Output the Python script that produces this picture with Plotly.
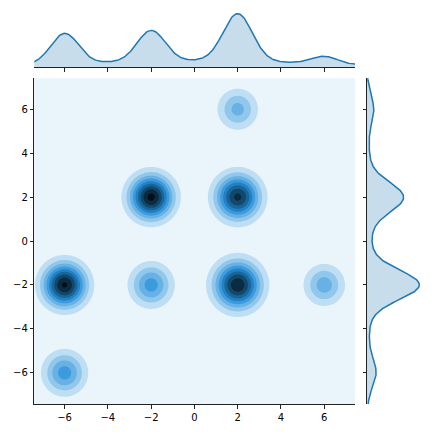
import colorsys
import numpy as np
import plotly.graph_objects as go

# ---- data (cluster centres, relative weights, kernel spread)
cluster_x = [-6, -6, -2, -2, 2, 2, 2, 6]
cluster_y = [-2, -6, 2, -2, 6, 2, -2, -2]
cluster_weight = [0.256, 0.118, 0.260, 0.118, 0.080, 0.245, 0.286, 0.085]
cluster_spread = [0.65, 0.63, 0.65, 0.63, 0.60, 0.67, 0.70, 0.60]
# broad low-density floor visible in the marginal KDE curves
floor_x_weight, floor_x_spread = 0.64, 5.2
floor_y_weight, floor_y_spread = 0.35, 3.6

tick_values = [-6, -4, -2, 0, 2, 4, 6]
x_range = [-7.40, 7.42]
y_range = [-7.42, 7.41]
n_bands = 10
base_color = "#1f77b4"

# ---- density surface and marginals
grid = np.linspace(-7.8, 7.8, 391)
GX, GY = np.meshgrid(grid, grid)
Z = np.zeros_like(GX)
mx = np.zeros_like(grid)
my = np.zeros_like(grid)
for cx, cy, w, s in zip(cluster_x, cluster_y, cluster_weight, cluster_spread):
    Z += w / (2 * np.pi * s * s) * np.exp(-((GX - cx) ** 2 + (GY - cy) ** 2) / (2 * s * s))
    mx += w / (s * np.sqrt(2 * np.pi)) * np.exp(-((grid - cx) ** 2) / (2 * s * s))
    my += w / (s * np.sqrt(2 * np.pi)) * np.exp(-((grid - cy) ** 2) / (2 * s * s))
mx += floor_x_weight / (floor_x_spread * np.sqrt(2 * np.pi)) * np.exp(-grid ** 2 / (2 * floor_x_spread ** 2))
my += floor_y_weight / (floor_y_spread * np.sqrt(2 * np.pi)) * np.exp(-grid ** 2 / (2 * floor_y_spread ** 2))

zmax = Z.max()
step = zmax / 9.3

# seaborn-like colormap: hue of base colour, lightness from 1 to 0
r, g, b = [int(base_color[i:i + 2], 16) / 255 for i in (1, 3, 5)]
hh, ll, ss = colorsys.rgb_to_hls(r, g, b)
anchors = np.array([colorsys.hls_to_rgb(hh, li, ss) for li in np.linspace(1, 0, 12)])
apos = np.linspace(0, 1, 12)


def cmap(t):
    c = [np.interp(t, apos, anchors[:, k]) for k in range(3)]
    return "rgb(%d,%d,%d)" % tuple(int(round(v * 255)) for v in c)


colorscale = [[i / (n_bands - 1), cmap((i + 0.5) / n_bands)] for i in range(n_bands)]

fig = go.Figure()
fig.add_trace(go.Contour(
    x=grid, y=grid, z=Z,
    autocontour=False,
    contours=dict(start=step, end=step * (n_bands - 1), size=step,
                  coloring="fill", showlines=False),
    line=dict(width=0),
    colorscale=colorscale, showscale=False, hoverinfo="skip",
    xaxis="x", yaxis="y",
))
fig.add_trace(go.Scatter(
    x=grid, y=mx, mode="lines", fill="tozeroy",
    line=dict(color=base_color, width=1.5),
    fillcolor="rgba(31,119,180,0.25)", xaxis="x2", yaxis="y2", hoverinfo="skip",
))
fig.add_trace(go.Scatter(
    x=my, y=grid, mode="lines", fill="tozerox",
    line=dict(color=base_color, width=1.5),
    fillcolor="rgba(31,119,180,0.25)", xaxis="x3", yaxis="y3", hoverinfo="skip",
))

# the page body has an 8 px margin, so the figure is 424 px and starts at (8, 8)
S = 424.0
OFF = 8.0


def dx(px):
    return (px - OFF) / S


def dy(px):
    return 1 - (px - OFF) / S


main_x_dom = [dx(34.3), dx(355)]
main_y_dom = [dy(404), dy(78.3)]
top_y_dom = [dy(67), dy(11)]
right_x_dom = [dx(367), dx(422)]

font = dict(family="DejaVu Sans", size=10, color="black")
spine = dict(showline=True, linecolor="#222", linewidth=1, ticks="outside",
             ticklen=3.5, tickwidth=0.8, tickcolor="#222", showgrid=False,
             zeroline=False, tickvals=tick_values, automargin=False)
blank = dict(showline=False, showticklabels=False, ticks="", showgrid=False,
             zeroline=False, automargin=False)

vis = (grid >= x_range[0]) & (grid <= x_range[1])
visy = (grid >= y_range[0]) & (grid <= y_range[1])

fig.update_layout(
    width=int(S), height=int(S),
    margin=dict(l=0, r=0, t=0, b=0, pad=0),
    paper_bgcolor="white", plot_bgcolor="white",
    showlegend=False, font=font,
    xaxis=dict(domain=main_x_dom, range=x_range, anchor="y", tickfont=font, **spine),
    yaxis=dict(domain=main_y_dom, range=y_range, anchor="x", tickfont=font, **spine),
    xaxis2=dict(domain=main_x_dom, range=x_range, anchor="y2", showticklabels=False, **spine),
    yaxis2=dict(domain=top_y_dom, range=[0, 1.05 * mx[vis].max()], anchor="x2", **blank),
    xaxis3=dict(domain=right_x_dom, range=[0, 1.05 * my[visy].max()], anchor="y3", **blank),
    yaxis3=dict(domain=main_y_dom, range=y_range, anchor="x3", showticklabels=False, **spine),
)

fig.write_html("out.html")
